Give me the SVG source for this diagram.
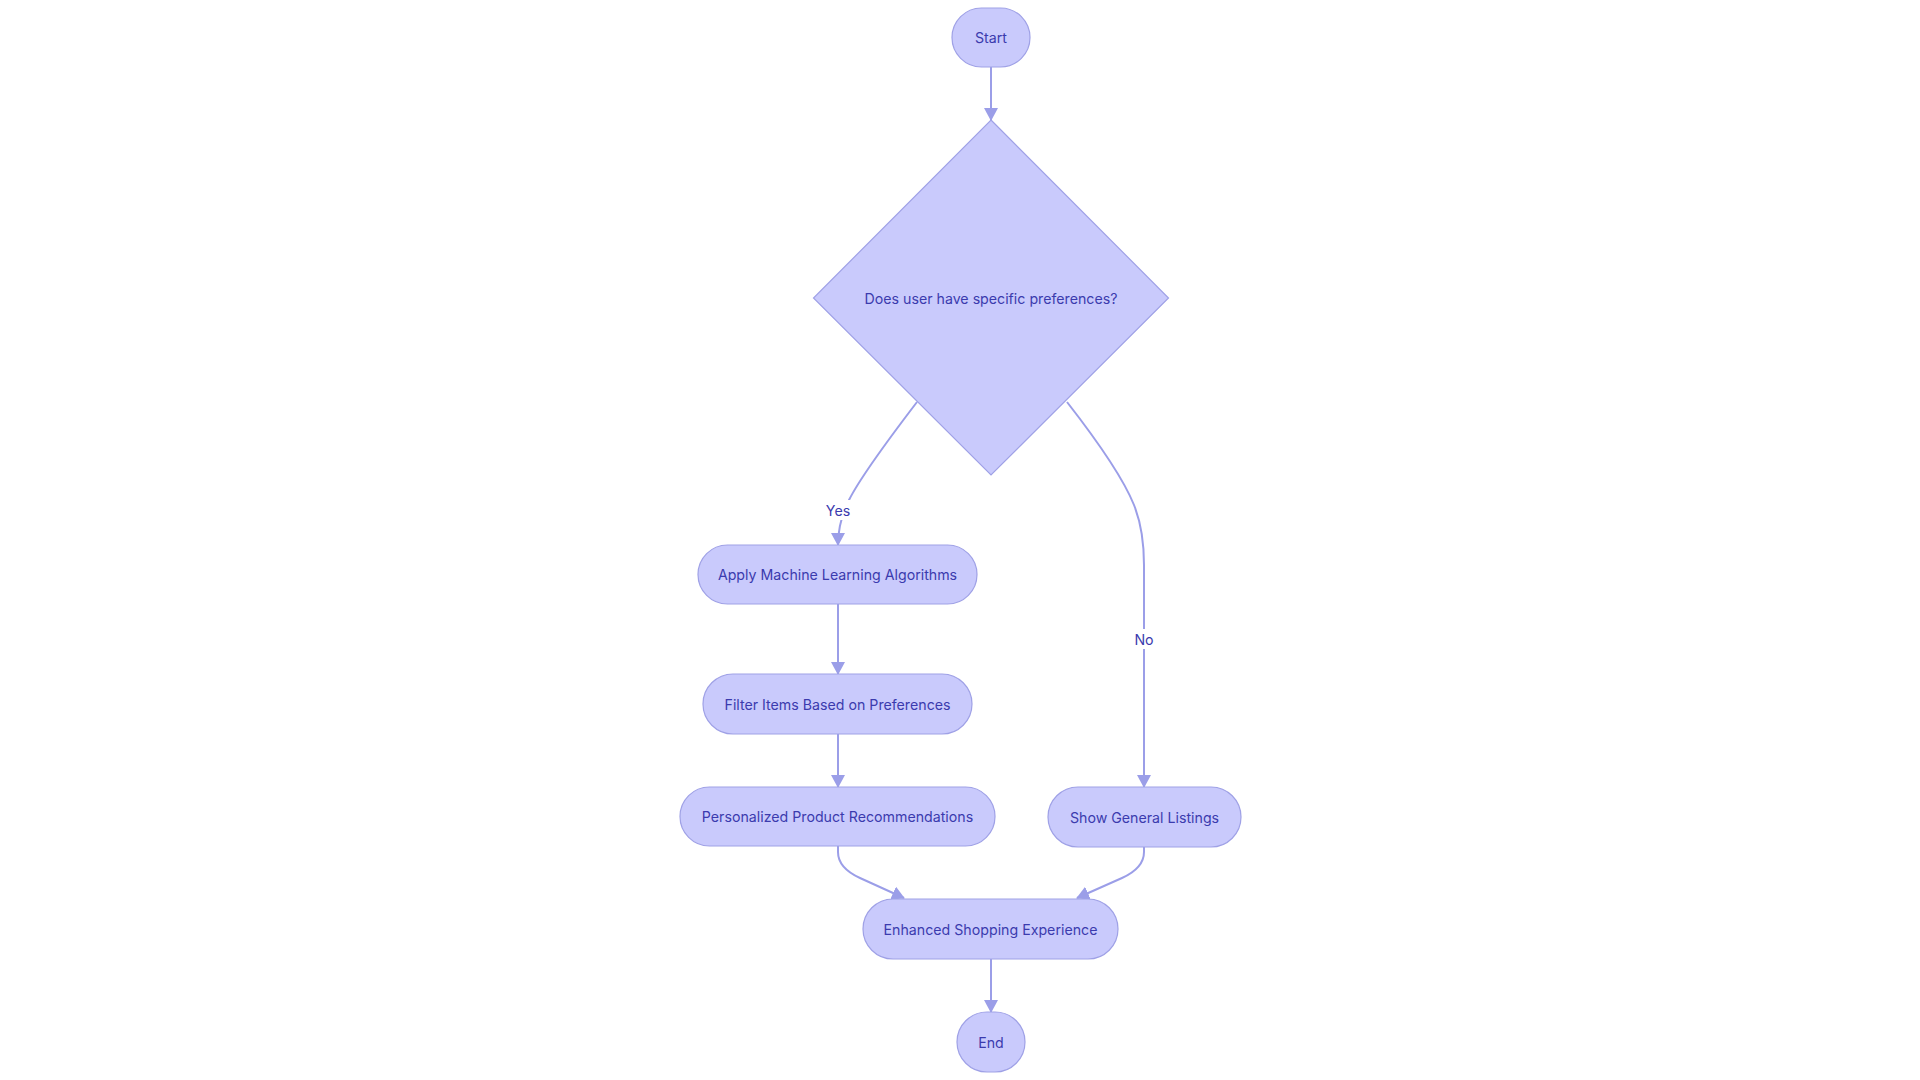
<svg xmlns="http://www.w3.org/2000/svg" width="1920" height="1080" viewBox="0 0 1920 1080">
<style>
.node{fill:#C9CAFC;stroke:#9FA1E6;stroke-width:1.2}
.lbl{font-family:Inter,"Liberation Sans",sans-serif;font-size:14.2px;fill:#3B3BAE;text-anchor:middle;dominant-baseline:central}
.edge{fill:none;stroke:#9B9EE8;stroke-width:2}
.elbl{fill:#FFFFFF}
</style>
<defs>
<marker id="arr" viewBox="0 0 13 14" refX="12" refY="7" markerWidth="13" markerHeight="14" markerUnits="userSpaceOnUse" orient="auto">
<path d="M0,0 L13,7 L0,14 Z" fill="#9B9EE8"/>
</marker>
</defs>
<rect width="1920" height="1080" fill="#FFFFFF"/>
<g id="connectors">
<path class="edge" d="M991,67 L991,120" marker-end="url(#arr)"/>
<path class="edge" d="M917,402 Q862,474 849,500 Q838,522 838,545" marker-end="url(#arr)"/>
<path class="edge" d="M1067,402 Q1120,470 1134,505 Q1144,530 1144,565 L1144,787" marker-end="url(#arr)"/>
<path class="edge" d="M838,604 L838,674" marker-end="url(#arr)"/>
<path class="edge" d="M838,734 L838,787" marker-end="url(#arr)"/>
<path class="edge" d="M838,846 L838,852 Q838,868 860,878 L904,898" marker-end="url(#arr)"/>
<path class="edge" d="M1144,847 L1144,852 Q1144,868 1122,878 L1077,898" marker-end="url(#arr)"/>
<path class="edge" d="M991,959 L991,1012" marker-end="url(#arr)"/>
<rect class="elbl" x="825" y="500" width="27" height="20"/>
<text class="lbl" x="838" y="510">Yes</text>
<rect class="elbl" x="1133" y="629" width="22" height="20"/>
<text class="lbl" x="1144" y="639">No</text>
</g>
<g id="start">
<rect class="node" x="952" y="8" width="78" height="59" rx="29.5"/>
<text class="lbl" x="991" y="37.5">Start</text>
</g>
<g id="decision">
<polygon class="node" points="991,120 1168.5,298 991,475 813.5,298"/>
<text class="lbl" x="991" y="298">Does user have specific preferences?</text>
</g>
<g id="apply">
<rect class="node" x="698" y="545" width="279" height="59" rx="29.5"/>
<text class="lbl" x="837.5" y="574.5">Apply Machine Learning Algorithms</text>
</g>
<g id="filter">
<rect class="node" x="703" y="674" width="269" height="60" rx="30"/>
<text class="lbl" x="837.5" y="704">Filter Items Based on Preferences</text>
</g>
<g id="personalized">
<rect class="node" x="680" y="787" width="315" height="59" rx="29.5"/>
<text class="lbl" x="837.5" y="816.5">Personalized Product Recommendations</text>
</g>
<g id="general">
<rect class="node" x="1048" y="787" width="193" height="60" rx="30"/>
<text class="lbl" x="1144.5" y="817">Show General Listings</text>
</g>
<g id="enhanced">
<rect class="node" x="863" y="899" width="255" height="60" rx="30"/>
<text class="lbl" x="990.5" y="929">Enhanced Shopping Experience</text>
</g>
<g id="end">
<rect class="node" x="957" y="1012" width="68" height="60" rx="30"/>
<text class="lbl" x="991" y="1042">End</text>
</g>
</svg>
